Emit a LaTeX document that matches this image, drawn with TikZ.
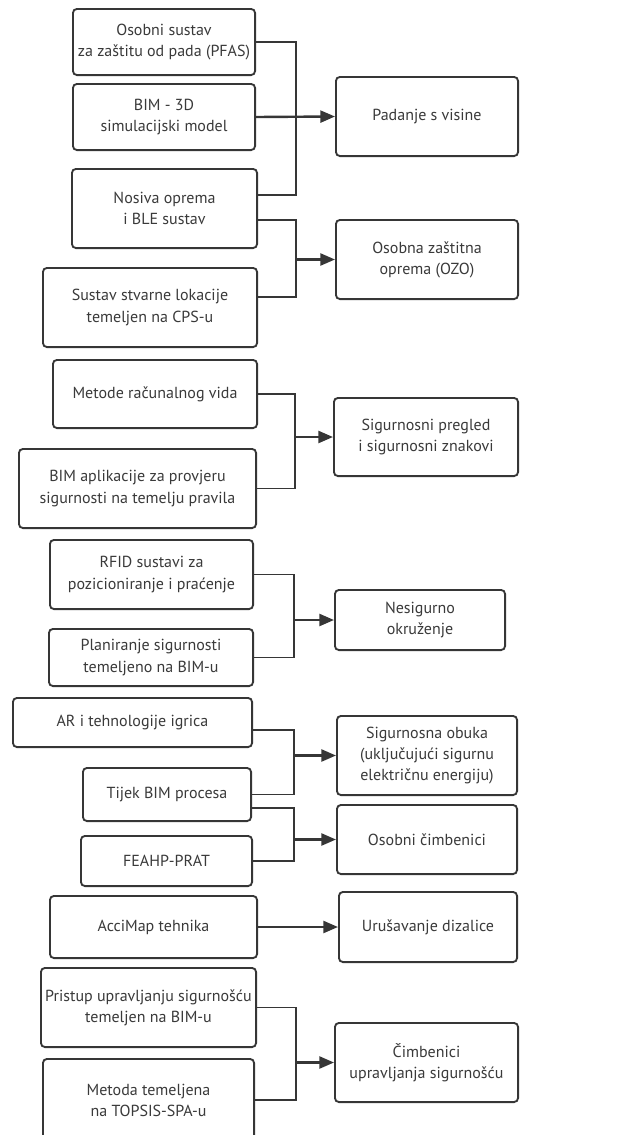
\documentclass[tikz,border=0pt]{standalone}
\usepackage{fontspec}
\setmainfont{PT Sans}
\usetikzlibrary{calc,arrows.meta}
\definecolor{ln}{HTML}{363636}
\definecolor{tx}{HTML}{3A3A3A}
\tikzset{
  box/.style={draw=ln, line width=1.4pt, rounded corners=3pt, fill=white, align=center,
    text=tx, font=\fontsize{12pt}{15.8pt}\selectfont, inner sep=0pt},
  con/.style={draw=ln, line width=1.4pt},
  arr/.style={draw=ln, line width=1.8pt, -{Triangle[length=11pt,width=9pt]}}
}
\newcommand{\bx}[7]{% name, cx, cy, w, h, text
  \node[box, minimum width=#4*0.75pt-1.4pt, minimum height=#5*0.75pt-1.4pt] (#1) at (#2,#3) {#6};}
\begin{document}
\begin{tikzpicture}[x=0.75pt,y=-0.75pt]
\useasboundingbox (0,0) rectangle (633,1135);
% left boxes
\bx{b1}{164}{42}{184}{68}{Osobni sustav\\za zaštitu od pada (PFAS)}{}
\bx{b2}{164}{117}{184}{68}{BIM - 3D\\simulacijski model}{}
\bx{b3}{164.5}{208.5}{187}{81}{Nosiva oprema\\i BLE sustav}{}
\bx{b4}{150}{307.5}{216}{81}{Sustav stvarne lokacije\\temeljen na CPS-u}{}
\bx{b5}{155}{394}{206}{70}{Metode računalnog vida}{}
\bx{b6}{137.5}{488.5}{239}{81}{BIM aplikacije za provjeru\\sigurnosti na temelju pravila}{}
\bx{b7}{151.5}{574.5}{205}{71}{RFID sustavi za\\pozicioniranje i praćenje}{}
\bx{b8}{151}{657.5}{206}{59}{Planiranje sigurnosti\\temeljeno na BIM-u}{}
\bx{b9}{132.5}{722.5}{241}{51}{AR i tehnologije igrica}{}
\bx{b10}{167}{794.5}{170}{55}{Tijek BIM procesa}{}
\bx{b11}{166.5}{861}{173}{52}{FEAHP-PRAT}{}
\bx{b12}{153.5}{927}{209}{64}{AcciMap tehnika}{}
\bx{b13}{148.5}{1007.5}{217}{81}{Pristup upravljanju sigurnošću\\temeljen na BIM-u}{}
\bx{b14}{148.5}{1100}{213}{84}{Metoda temeljena\\na TOPSIS-SPA-u}{}
% right boxes
\bx{p1}{427}{116.5}{184}{81}{Padanje s visine}{}
\bx{p2}{427}{259.5}{184}{81}{Osobna zaštitna\\oprema (OZO)}{}
\bx{p3}{426}{437}{186}{80}{Sigurnosni pregled\\i sigurnosni znakovi}{}
\bx{p4}{420}{620}{172}{62}{Nesigurno\\okruženje}{}
\bx{p5}{427}{755.5}{182}{81}{Sigurnosna obuka\\(uključujući sigurnu\\električnu energiju)}{}
\bx{p6}{427}{839.5}{182}{71}{Osobni čimbenici}{}
\bx{p7}{428}{927}{180}{72}{Urušavanje dizalice}{}
\bx{p8}{426.5}{1062.5}{185}{81}{Čimbenici\\upravljanja sigurnošću}{}
% junctions
\coordinate (j1) at (296,116.5);
\coordinate (j2) at (296,259.5);
\coordinate (j3) at (295,437);
\coordinate (j4) at (294,620);
\coordinate (j5) at (294,755.5);
\coordinate (j6) at (294,839.5);
\coordinate (j8) at (296,1062.5);
% connectors
\draw[con] (b1.east) -| (j1) |- ($(b3.east)+(0,-13.5)$);
\draw[arr] (b2.east) -- (p1.west);
\draw[con] ($(b3.east)+(0,11.5)$) -| (j2) |- ($(b4.east)+(0,-10.5)$);
\draw[arr] (j2) -- (p2.west);
\draw[con] (b5.east) -| (j3) |- (b6.east);
\draw[arr] (j3) -- (p3.west);
\draw[con] (b7.east) -| (j4) |- (b8.east);
\draw[arr] (j4) -- (p4.west);
\draw[con] ($(b9.east)+(0,7.5)$) -| (j5) |- (b10.east);
\draw[arr] (j5) -- (p5.west);
\draw[con] ($(b10.east)+(0,13.5)$) -| (j6) |- (b11.east);
\draw[arr] (j6) -- (p6.west);
\draw[arr] (b12.east) -- (p7.west);
\draw[con] (b13.east) -| (j8) |- (b14.east);
\draw[arr] (j8) -- (p8.west);
\end{tikzpicture}
\end{document}
